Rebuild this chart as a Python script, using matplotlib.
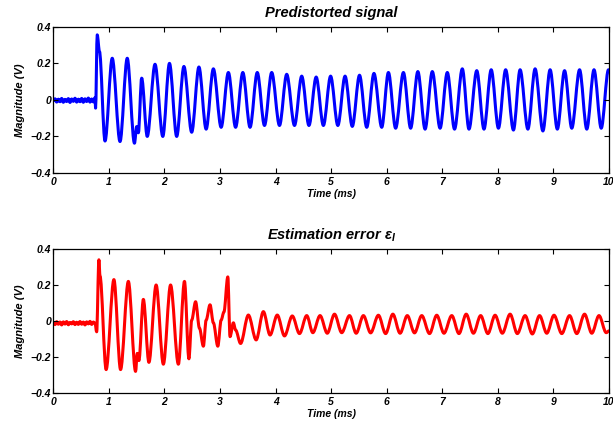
"""Predistorted signal and estimation error, two stacked time traces."""

import matplotlib
matplotlib.use("Agg")
import matplotlib.pyplot as plt
from matplotlib.path import Path
from matplotlib.patches import PathPatch

plt.rcParams["font.family"] = ["Liberation Sans", "DejaVu Sans"]
plt.rcParams["font.weight"] = "bold"
plt.rcParams["font.style"] = "italic"
plt.rcParams["axes.titleweight"] = "bold"
plt.rcParams["axes.labelweight"] = "bold"
plt.rcParams["mathtext.fontset"] = "custom"
plt.rcParams["mathtext.it"] = "Liberation Sans:bold:italic"
plt.rcParams["mathtext.rm"] = "Liberation Sans"

pre_t = [
    0.00, 0.03, 0.06, 0.09, 0.12, 0.15, 0.18, 0.21, 0.24, 0.27, 0.30, 0.33,
    0.36, 0.39, 0.42, 0.45, 0.48, 0.51, 0.54, 0.57, 0.60, 0.63, 0.66, 0.69,
    0.72, 0.75, 0.76, 0.79, 0.83, 0.93, 1.06, 1.20, 1.33, 1.46, 1.50, 1.53,
    1.59, 1.69, 1.83, 1.97, 2.09, 2.22, 2.35, 2.49, 2.62, 2.75, 2.88, 3.02,
    3.15, 3.28, 3.41, 3.54, 3.67, 3.80, 3.93, 4.07, 4.20, 4.34, 4.47, 4.60,
    4.73, 4.86, 4.99, 5.12, 5.25, 5.38, 5.51, 5.64, 5.77, 5.91, 6.03, 6.16,
    6.30, 6.43, 6.56, 6.69, 6.82, 6.96, 7.09, 7.22, 7.36, 7.48, 7.62, 7.75,
    7.88, 8.01, 8.14, 8.28, 8.40, 8.54, 8.67, 8.81, 8.94, 9.07, 9.20, 9.33,
    9.47, 9.60, 9.73, 9.86, 9.99,
]
pre_v = [
    -0.004, 0.006, -0.012, 0.004, -0.010, 0.008, -0.013, 0.003, -0.009, 0.007,
    -0.014, 0.005, -0.008, 0.009, -0.012, 0.004, -0.010, 0.008, -0.013, 0.006,
    -0.009, 0.010, -0.012, 0.005, -0.011, 0.012, -0.045, 0.356, 0.265, -0.225,
    0.228, -0.228, 0.228, -0.237, -0.146, -0.180, 0.119, -0.200, 0.195, -0.200,
    0.200, -0.200, 0.183, -0.177, 0.180, -0.160, 0.170, -0.150, 0.150, -0.150,
    0.150, -0.150, 0.150, -0.140, 0.150, -0.140, 0.140, -0.140, 0.130, -0.140,
    0.125, -0.140, 0.130, -0.140, 0.130, -0.145, 0.135, -0.150, 0.145, -0.150,
    0.150, -0.155, 0.150, -0.155, 0.155, -0.160, 0.155, -0.155, 0.150, -0.160,
    0.170, -0.160, 0.160, -0.160, 0.165, -0.155, 0.165, -0.165, 0.165, -0.160,
    0.170, -0.170, 0.165, -0.160, 0.160, -0.155, 0.165, -0.160, 0.165, -0.155,
    0.165,
]

# ---- estimation error eps_I (ms, V) ----
err_t = [
    0.00, 0.03, 0.06, 0.09, 0.12, 0.15, 0.18, 0.21, 0.24, 0.27, 0.30, 0.33,
    0.36, 0.39, 0.42, 0.45, 0.48, 0.51, 0.54, 0.57, 0.60, 0.63, 0.66, 0.69,
    0.72, 0.75, 0.78, 0.82, 0.84, 0.95, 1.09, 1.21, 1.35, 1.48, 1.51, 1.54,
    1.62, 1.72, 1.85, 1.98, 2.11, 2.25, 2.36, 2.44, 2.49, 2.56, 2.63, 2.70,
    2.75, 2.82, 2.88, 2.96, 3.02, 3.07, 3.14, 3.18, 3.24, 3.28, 3.37, 3.51,
    3.65, 3.78, 3.90, 4.03, 4.16, 4.30, 4.43, 4.56, 4.67, 4.80, 4.93, 5.06,
    5.19, 5.33, 5.45, 5.58, 5.71, 5.85, 5.98, 6.11, 6.24, 6.37, 6.50, 6.63,
    6.77, 6.90, 7.03, 7.17, 7.30, 7.43, 7.56, 7.69, 7.82, 7.95, 8.08, 8.22,
    8.35, 8.49, 8.62, 8.75, 8.88, 9.01, 9.15, 9.29, 9.42, 9.56, 9.69, 9.82,
    9.95, 10.00,
]
err_v = [
    -0.008, -0.020, -0.004, -0.018, -0.006, -0.022, -0.005, -0.017, -0.003,
    -0.021, -0.008, -0.016, -0.004, -0.020, -0.007, -0.019, -0.003, -0.018,
    -0.006, -0.022, -0.005, -0.016, -0.002, -0.019, -0.006, -0.012, -0.060,
    0.340, 0.250, -0.270, 0.230, -0.270, 0.220, -0.280, -0.180, -0.220,
    0.120, -0.230, 0.200, -0.240, 0.200, -0.240, 0.220, -0.210, 0.005,
    0.107, -0.040, -0.140, 0.005, 0.090, -0.010, -0.140, 0.005, 0.050,
    0.245, -0.087, -0.010, -0.050, -0.125, 0.033, -0.105, 0.052, -0.078,
    0.033, -0.083, 0.028, -0.070, 0.030, -0.065, 0.030, -0.068, 0.038,
    -0.065, 0.030, -0.068, 0.030, -0.066, 0.032, -0.070, 0.038, -0.068,
    0.030, -0.066, 0.030, -0.070, 0.032, -0.068, 0.030, -0.070, 0.038,
    -0.068, 0.030, -0.070, 0.032, -0.068, 0.038, -0.070, 0.030, -0.072,
    0.030, -0.068, 0.032, -0.070, 0.030, -0.070, 0.038, -0.068, 0.030,
    -0.065, -0.055,
]

X_TICKS = [0, 1, 2, 3, 4, 5, 6, 7, 8, 9, 10]
Y_TICKS = [-0.4, -0.2, 0, 0.2, 0.4]
Y_LABELS = ["\u22120.4", "\u22120.2", "0", "0.2", "0.4"]


def smooth_trace(ax, t, v, color):
    # cubic segments with flat tangents at each read point, so the
    # peaks come out rounded like the scope trace
    verts = [(t[0], v[0])]
    codes = [Path.MOVETO]
    for i in range(1, len(t)):
        dt = (t[i] - t[i - 1]) / 3
        verts += [(t[i - 1] + dt, v[i - 1]), (t[i] - dt, v[i]), (t[i], v[i])]
        codes += [Path.CURVE4] * 3
    patch = PathPatch(Path(verts, codes), facecolor="none", edgecolor=color,
                      linewidth=2.2, capstyle="round", joinstyle="round")
    ax.add_patch(patch)


def style(ax, title):
    ax.set_xlim(0, 10)
    ax.set_ylim(-0.4, 0.4)
    ax.set_xticks(X_TICKS)
    ax.set_xticklabels([str(t) for t in X_TICKS])
    ax.set_yticks(Y_TICKS)
    ax.set_yticklabels(Y_LABELS)
    ax.tick_params(direction="in", top=True, right=True, length=3.5,
                   width=0.8, labelsize=7.5)
    ax.tick_params(axis="y", pad=1.5)
    ax.tick_params(axis="x", pad=3)
    for s in ax.spines.values():
        s.set_linewidth(0.9)
    ax.set_xlabel("Time (ms)", fontsize=7.5, labelpad=1)
    ax.set_ylabel("Magnitude (V)", fontsize=8, labelpad=4)
    ax.set_title(title, fontsize=10.5, pad=7)


fig = plt.figure(figsize=(6.13, 4.26), dpi=100)
ax1 = fig.add_axes([0.087, 0.594, 0.9065, 0.343])
ax2 = fig.add_axes([0.087, 0.0775, 0.9065, 0.338])

smooth_trace(ax1, pre_t, pre_v, "#0000ff")
style(ax1, "Predistorted signal")

smooth_trace(ax2, err_t, err_v, "#ff0000")
style(ax2, r"Estimation error ε$_I$")

fig.savefig("out.png", dpi=100)
